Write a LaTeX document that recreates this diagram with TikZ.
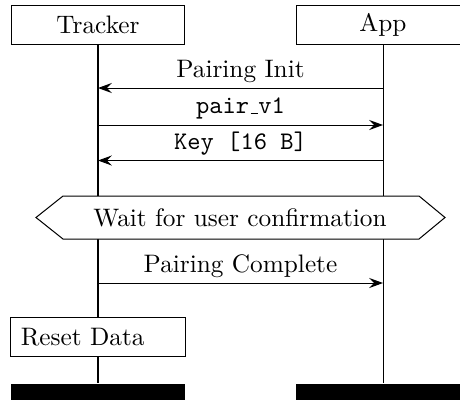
\documentclass[tikz,border=0pt]{standalone}
\usetikzlibrary{arrows.meta}
\tikzset{
  inst/.style={draw, minimum width=68.4pt, minimum height=15.8pt, inner sep=0pt},
  endbar/.style={fill, minimum width=68.8pt, minimum height=7.9pt, inner sep=0pt},
  action/.style={draw, fill=white, text width=61pt, align=left, inner sep=4.2pt,
    minimum height=15pt},
  msg/.style={-{Stealth[length=5.5pt, width=4pt, inset=2pt]}},
  label/.style={above, inner sep=2pt},
}
\newcommand{\lowbar}{\kern.06em\vbox{\hrule width.3em}}
\begin{document}
\begin{tikzpicture}[x=0.0139cm, y=-0.0139cm]
  \useasboundingbox (0,0) rectangle (460,399);
  % draw instance heads and ends
  \node[inst] (tracker) at (98,25) {Tracker};
  \node[inst] (app) at (383,25) {App};
  \node[endbar, anchor=north] (trackerend) at (98,383) {};
  \node[endbar, anchor=north] (append) at (383,383) {};
  % draw life lines
  \draw (tracker) -- (trackerend);
  \draw (app) -- (append);
  % message levels on both life lines
  \foreach \n/\y in {1/88, 2/125, 3/160.5, 4/283}{
    \coordinate (t\n) at (98,\y);
    \coordinate (a\n) at (383,\y);
  }
  % draw messages
  \draw[msg] (a1) -- node[label] {Pairing Init} (t1);
  \draw[msg] (t2) -- node[label] {\texttt{pair\lowbar v1}} (a2);
  \draw[msg] (a3) -- node[label] {\texttt{Key [16 B]}} (t3);
  \draw[msg] (t4) -- node[label] {Pairing Complete} (a4);
  % draw condition
  \draw[fill=white] (36,217.5) -- (63,196) -- (419,196) -- (445,217.5)
    -- (419,239) -- (63,239) -- cycle;
  \node (wait) at (240,217.5) {Wait for user confirmation};
  % draw local action
  \node[action] (reset) at (98,337) {Reset Data};
\end{tikzpicture}
\end{document}
